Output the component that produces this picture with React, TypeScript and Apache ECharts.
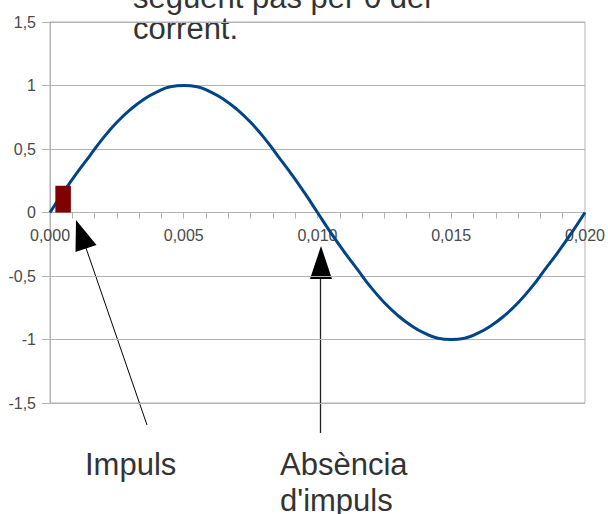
import React, { useEffect, useRef } from "react";
import * as echarts from "echarts";

// Time (s) and current (normalised)
const times = [
  0, 0.0005, 0.001, 0.0015, 0.002, 0.0025, 0.003, 0.0035, 0.004, 0.0045, 0.005,
  0.0055, 0.006, 0.0065, 0.007, 0.0075, 0.008, 0.0085, 0.009, 0.0095, 0.01,
  0.0105, 0.011, 0.0115, 0.012, 0.0125, 0.013, 0.0135, 0.014, 0.0145, 0.015,
  0.0155, 0.016, 0.0165, 0.017, 0.0175, 0.018, 0.0185, 0.019, 0.0195, 0.02,
];
const current = [
  0, 0.16, 0.31, 0.45, 0.59, 0.71, 0.81, 0.89, 0.95, 0.99, 1,
  0.99, 0.95, 0.89, 0.81, 0.71, 0.59, 0.45, 0.31, 0.16, 0,
  -0.16, -0.31, -0.45, -0.59, -0.71, -0.81, -0.89, -0.95, -0.99, -1,
  -0.99, -0.95, -0.89, -0.81, -0.71, -0.59, -0.45, -0.31, -0.16, 0,
];
// Impulse bar: [start time, end time, height]
const impulse = [[0.0002, 0.00078, 0.21]];

const topLines = ["següent pas per 0 del", "corrent."];
const labelImpuls = "Impuls";
const labelAbsencia = ["Absència", "d'impuls"];

const FONT = "Liberation Sans, Arial, sans-serif";
const GRID = "#b3b3b3";
const TEXT = "#333333";

export default function App() {
  const ref = useRef<HTMLDivElement>(null);
  useEffect(() => {
    document.body.style.margin = "0";
    const chart = echarts.init(ref.current!, undefined, { renderer: "svg" });
    chart.setOption({
      animation: false,
      backgroundColor: "#ffffff",
      grid: {
        left: 50,
        right: 21,
        top: 22,
        bottom: 111,
        show: true,
        borderColor: GRID,
        borderWidth: 1,
      },
      xAxis: {
        type: "value",
        min: 0,
        max: 0.02,
        interval: 0.005,
        offset: -190.5,
        axisLine: { show: true, onZero: false, lineStyle: { color: GRID, width: 1 } },
        axisTick: { show: true, length: 6, lineStyle: { color: GRID } },
        minorTick: { show: true, splitNumber: 6, length: 6, lineStyle: { color: GRID } },
        splitLine: { show: false },
        axisLabel: {
          margin: 15,
          color: "#4a4a4a",
          fontSize: 16,
          fontFamily: FONT,
          formatter: (v: number) => v.toFixed(3).replace(".", ","),
        },
      },
      yAxis: {
        type: "value",
        min: -1.5,
        max: 1.5,
        interval: 0.5,
        axisLine: { show: true, lineStyle: { color: GRID, width: 1 } },
        axisTick: { show: true, length: 8, lineStyle: { color: GRID } },
        splitLine: { show: true, lineStyle: { color: GRID, width: 1 } },
        axisLabel: {
          margin: 14,
          color: "#4a4a4a",
          fontSize: 16,
          fontFamily: FONT,
          formatter: (v: number) => String(v).replace(".", ","),
        },
      },
      series: [
        {
          type: "line",
          data: times.map((t, i) => [t, current[i]]),
          smooth: true,
          showSymbol: false,
          lineStyle: { color: "#004586", width: 3 },
          z: 2,
        },
        {
          type: "custom",
          data: impulse,
          z: 3,
          renderItem: (params: any, api: any) => {
            const p0 = api.coord([api.value(0), api.value(2)]);
            const p1 = api.coord([api.value(1), 0]);
            return {
              type: "rect",
              shape: { x: p0[0], y: p0[1], width: p1[0] - p0[0], height: p1[1] - p0[1] },
              style: { fill: "#800000" },
            };
          },
        },
      ],
      graphic: [
        {
          type: "text",
          x: 133,
          y: -3,
          style: { text: topLines[0], font: `31px ${FONT}`, fill: TEXT, verticalAlign: "middle" },
        },
        {
          type: "text",
          x: 133,
          y: 28,
          style: { text: topLines[1], font: `31px ${FONT}`, fill: TEXT, verticalAlign: "middle" },
        },
        {
          type: "line",
          shape: { x1: 147, y1: 425, x2: 86, y2: 248 },
          style: { stroke: "#000", lineWidth: 1 },
        },
        {
          type: "polygon",
          shape: { points: [[76, 220], [96.5, 245], [75.5, 252]] },
          style: { fill: "#000" },
        },
        {
          type: "line",
          shape: { x1: 320.5, y1: 433, x2: 320.5, y2: 276 },
          style: { stroke: "#222", lineWidth: 1.3 },
        },
        {
          type: "polygon",
          shape: { points: [[321, 246], [332, 279], [310, 279]] },
          style: { fill: "#000" },
        },
        {
          type: "text",
          x: 85,
          y: 464.5,
          style: { text: labelImpuls, font: `31px ${FONT}`, fill: TEXT, verticalAlign: "middle" },
        },
        {
          type: "text",
          x: 280,
          y: 464.5,
          style: { text: labelAbsencia[0], font: `31px ${FONT}`, fill: TEXT, verticalAlign: "middle" },
        },
        {
          type: "text",
          x: 280,
          y: 500.5,
          style: { text: labelAbsencia[1], font: `31px ${FONT}`, fill: TEXT, verticalAlign: "middle" },
        },
      ],
    });
    return () => chart.dispose();
  }, []);
  return (
    <div
      ref={ref}
      style={{ position: "fixed", left: 0, top: 0, width: 608, height: 514 }}
    />
  );
}
